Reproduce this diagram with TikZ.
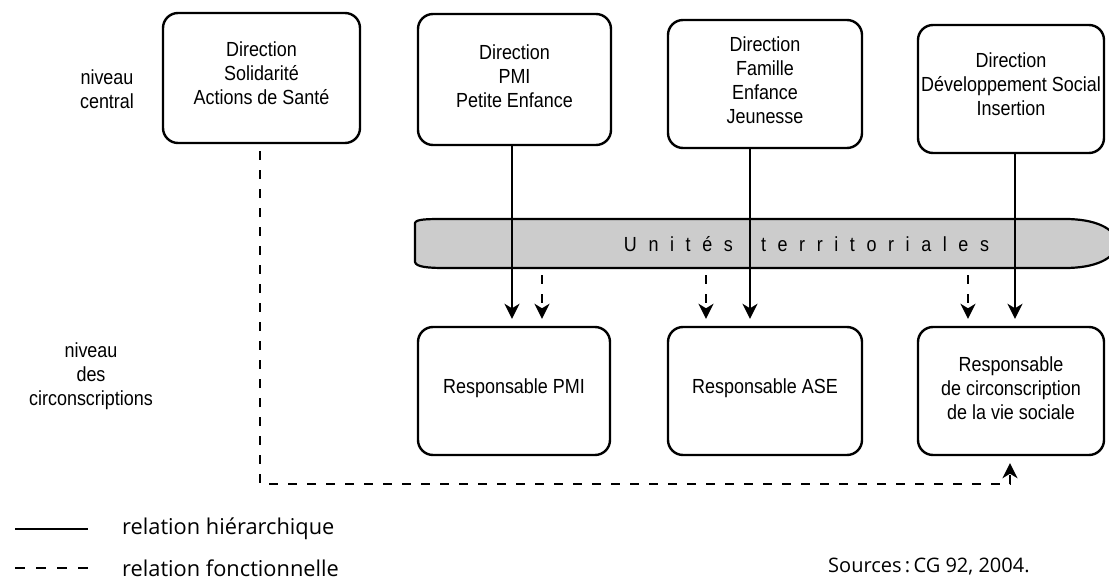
\documentclass[tikz,border=0pt]{standalone}
\usepackage{fontspec}
\setmainfont{Liberation Sans}
\newfontfamily\boxfont[FakeStretch=0.88]{Liberation Sans}
\newfontfamily\legendfont{Open Sans}
\usetikzlibrary{arrows.meta,calc}
\newcommand\lsp{\kern11.6pt\relax}
\tikzset{
  box/.style={draw, line width=2.4pt, rounded corners=15pt, inner sep=0pt},
  lbl/.style={align=center, font=\boxfont\fontsize{20.4}{24}\selectfont, inner sep=0pt},
  tip/.style={-{Stealth[length=15pt,width=15pt,inset=4.5pt]}},
  harr/.style={line width=2.3pt, tip},
  farr/.style={line width=2.5pt, dash pattern=on 9pt off 10pt, tip},
  leg/.style={font=\legendfont\fontsize{21.8}{24}\selectfont, anchor=west, inner sep=0pt},
}
\begin{document}
\begin{tikzpicture}[x=1pt,y=-1pt]
\useasboundingbox (0,0) rectangle (1109,580);
\fill[white] (0,0) rectangle (1109,580);
\clip (0,0) rectangle (1109,580);

% level labels
\node[lbl] (lc) at (107,89) {niveau\\central};
\node[lbl] (lcirc) at (91,376) {niveau\\des\\circonscriptions};

% top boxes
\node[box, minimum width=197pt, minimum height=130pt] (d1) at (261.5,78) {};
\node[lbl] (t1) at (261.5,73) {Direction\\Solidarité\\Actions de Santé};
\node[box, minimum width=193pt, minimum height=131pt] (d2) at (514.5,79.5) {};
\node[lbl] (t2) at (514.5,76) {Direction\\PMI\\Petite Enfance};
\node[box, minimum width=194pt, minimum height=128pt] (d3) at (765,84) {};
\node[lbl] (t3) at (765,80) {Direction\\Famille\\Enfance\\Jeunesse};
\node[box, minimum width=186pt, minimum height=128pt] (d4) at (1011,89) {};
\node[lbl] (t4) at (1011,84) {Direction\\Développement Social\\Insertion};

% band
\fill[black!20] (415,223) .. controls (416,219) and (428,219) .. (445,219) -- (1065,219)
  .. controls (1095,219) and (1115,228) .. (1118,243.5)
  .. controls (1115,259) and (1095,268) .. (1065,268) -- (445,268)
  .. controls (428,268) and (416,267) .. (415,262) -- cycle;
\node[minimum width=696pt, minimum height=49pt, inner sep=0pt] (band) at (761,243.5) {};
\node[lbl] (ut) at (806.5,244) {U\lsp n\lsp i\lsp t\lsp é\lsp s\lsp\ \lsp t\lsp e\lsp r\lsp r\lsp i\lsp t\lsp o\lsp r\lsp i\lsp a\lsp l\lsp e\lsp s};

% bottom boxes
\node[box, minimum width=192pt, minimum height=128pt] (r1) at (514,391) {};
\node[lbl] (s1) at (514,388) {Responsable PMI};
\node[box, minimum width=194pt, minimum height=128pt] (r2) at (765,391) {};
\node[lbl] (s2) at (765,388) {Responsable ASE};
\node[box, minimum width=186pt, minimum height=128pt] (r3) at (1011,391) {};
\node[lbl] (s3) at (1011,388) {Responsable\\de circonscription\\de la vie sociale};

% hierarchical arrows
\draw[harr] ($(d2.south -| r1.north)+(-2,0)$) -- ($(r1.north)+(-2,-7)$);
\draw[harr] ($(d3.south)+(-15,0)$) -- ($(r2.north)+(-15,-7)$);
\draw[harr] ($(d4.south)+(4,0)$) -- ($(r3.north)+(4,-7)$);

% band outline drawn over the lines
\draw[line width=2.2pt] (415,223) .. controls (416,219) and (428,219) .. (445,219) -- (1065,219)
  .. controls (1095,219) and (1115,228) .. (1118,243.5)
  .. controls (1115,259) and (1095,268) .. (1065,268) -- (445,268)
  .. controls (428,268) and (416,267) .. (415,262) -- cycle;

% functional arrows
\draw[farr] ($(band.south -| r1.north)+(28,7)$) -- ($(r1.north)+(28,-7)$);
\draw[farr] ($(band.south -| r2.north)+(-59,7)$) -- ($(r2.north)+(-59,-7)$);
\draw[farr] ($(band.south -| r3.north)+(-43,7)$) -- ($(r3.north)+(-43,-7)$);
\coordinate (fc) at ($(r3.south)+(-1,28)$);
\draw[farr] ($(d1.south)+(-1.5,7)$) |- (fc) -- ($(r3.south)+(-1,7)$);

% legend
\node[leg] (lh) at (122,529) {relation hiérarchique};
\node[leg] (lf) at (122,568) {relation fonctionnelle};
\draw[line width=2.2pt] ($(lh.west)+(-107,0)$) -- ($(lh.west)+(-34,0)$);
\draw[line width=2.5pt, dash pattern=on 10pt off 11pt] ($(lf.west)+(-107,0)$) -- ($(lf.west)+(-34,0)$);
\node[leg, font=\legendfont\fontsize{20}{24}\selectfont] (src) at (828,567) {Sources\,:\,CG 92, 2004.};
\end{tikzpicture}
\end{document}
